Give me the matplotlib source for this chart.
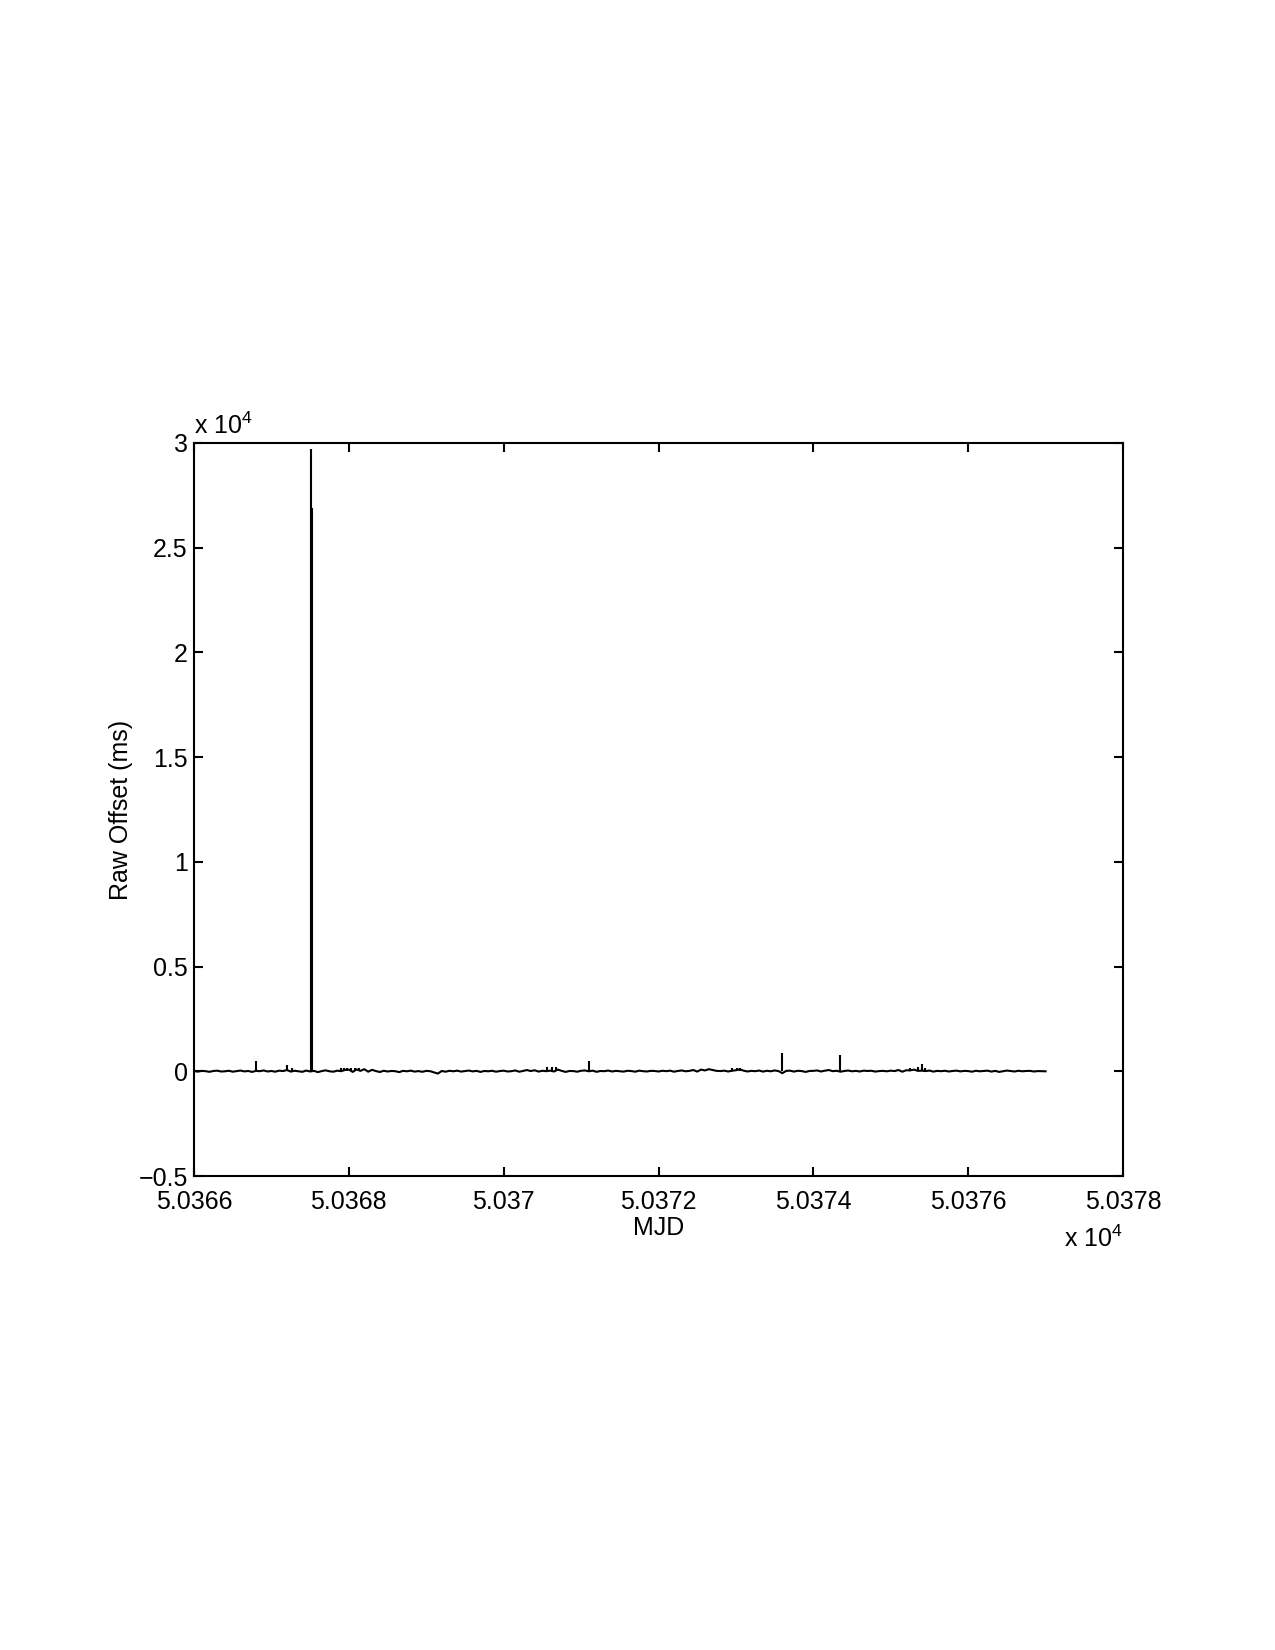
import numpy as np
import matplotlib
matplotlib.use("Agg")
import matplotlib.pyplot as plt

plt.rcParams['font.family'] = ['Liberation Sans', 'DejaVu Sans']
plt.rcParams['mathtext.fontset'] = 'custom'
plt.rcParams['mathtext.rm'] = 'Liberation Sans'
plt.rcParams['mathtext.it'] = 'Liberation Sans'

# ---- data ----
mjd_start = 50366.0
mjd_end = 50377.0
# baseline raw offset (ms), sampled every 0.05 day from 50366.00 to 50377.00
baseline_ms = [
    10, -15, 20, 5, -25, 15, 30, -10, 0, 25, -20, 10, 35, -5, 15, -30, 20, 5, 40, -10,
    15, -20, 30, 10, 60, -15, 25, 0, -25, 35, -10, 20, -40, 10, 45, 0, -20, 30, 5, 60,
    80, -30, 90, 20, 100, -20, 70, 10, -35, 25, -10, 15, 5, -40, 20, 0, 30, -15, 10, -25,
    20, 5, -50, -110, 15, -20, 25, 0, 30, -15, 10, 35, -5, 20, -30, 15, 0, 25, -20, 10,
    30, -10, 5, 40, -20, 15, 60, 10, 50, -15, 25, 5, 30, -10, 80, 20, -30, 15, 10, -20,
    25, 40, 0, 30, -25, 15, 5, 35, -10, 20, 0, -15, 25, 10, -20, 30, 5, -10, 20, 15,
    -10, 25, 5, 30, -20, 15, 40, 0, 20, 60, -15, 80, 40, 100, 60, 20, 10, 30, -10, 25,
    50, 90, 30, -10, 20, 5, 35, -15, 25, 0, 40, 10, -90, 20, 30, -15, 25, 10, -30, 15,
    20, 40, -10, 30, 60, 5, 25, -20, 15, 35, 0, 20, -10, 30, 15, 25, -15, 10, 20, 0,
    30, 10, 60, -20, 50, 40, 80, 20, 30, 10, 35, -15, 20, 5, 25, -10, 15, 30, -5, 20,
    10, -20, 25, 0, 15, 30, -15, 20, -30, 5, 35, 10, -10, 25, 0, 15, 20, -10, 10, 5,
    0,
]
# isolated spikes (MJD, raw offset in ms)
spike_mjd = [50366.805, 50367.205, 50367.265, 50367.505, 50367.518,
             50367.905, 50367.935, 50367.975, 50368.025, 50368.075, 50368.125,
             50370.565, 50370.625, 50370.675, 50371.105,
             50372.955, 50373.015, 50373.055, 50373.595, 50374.345,
             50375.255, 50375.355, 50375.405, 50375.445]
spike_ms = [480, 280, 150, 29700, 26900,
            160, 170, 180, 170, 150, 140,
            200, 190, 210, 480,
            170, 160, 150, 880, 770,
            150, 200, 340, 160]

xticks = [50366, 50368, 50370, 50372, 50374, 50376, 50378]
yticks = [-5000, 0, 5000, 10000, 15000, 20000, 25000, 30000]

# ---- figure ----
fig = plt.figure(figsize=(8.5, 11), dpi=150)
ax = fig.add_axes([194/1275, 1 - 1176/1650, (1123 - 194)/1275, (1176 - 443)/1650])

mjd = np.linspace(mjd_start, mjd_end, len(baseline_ms))
ax.plot(mjd, baseline_ms, color='black', lw=1.0)
ax.vlines(spike_mjd, 0, spike_ms, color='black', lw=1.0)

ax.set_xlim(50366, 50378)
ax.set_ylim(-5000, 30000)
ax.set_xticks(xticks)
ax.set_yticks(yticks)
ax.set_xticklabels(['%g' % (v / 1e4) for v in xticks])
ax.set_yticklabels([('%g' % (v / 1e4)).replace('-', '\u2212') for v in yticks])

for s in ax.spines.values():
    s.set_linewidth(1.0)
ax.tick_params(direction='in', length=4.5, width=1.0, top=True, right=True,
               labelsize=12)
ax.tick_params(axis='x', pad=6.5)
ax.tick_params(axis='y', pad=3)

ax.set_xlabel('MJD', fontsize=12)
ax.xaxis.set_label_coords(0.5, -0.055)
ax.xaxis.label.set_va('top')
ax.set_ylabel('Raw Offset (ms)', fontsize=12)
ax.yaxis.set_label_coords(-0.066, 0.5)

ax.text(0.0, 1.006, r'x 10$^{4}$', transform=ax.transAxes, ha='left', va='bottom', fontsize=12)
ax.text(1.0, -0.104, r'x 10$^{4}$', transform=ax.transAxes, ha='right', va='bottom', fontsize=12)

fig.savefig('out.png', dpi=150, facecolor='white')
